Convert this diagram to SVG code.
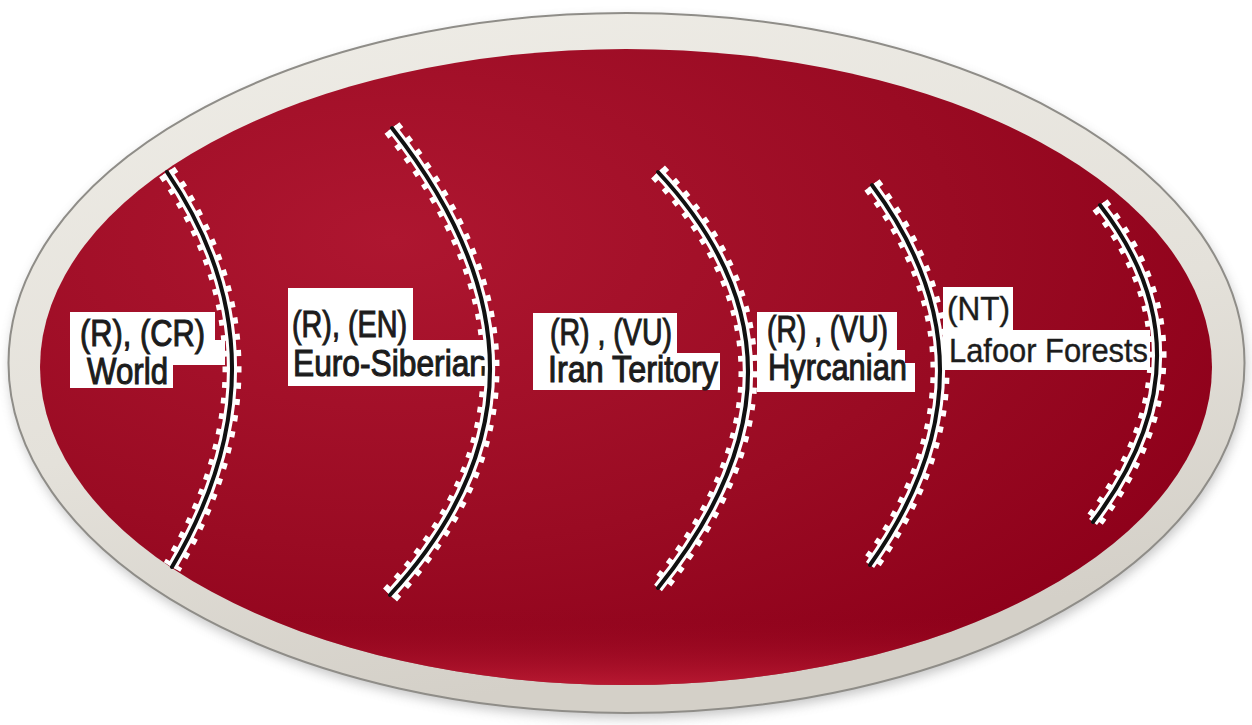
<svg xmlns="http://www.w3.org/2000/svg" width="1252" height="725" viewBox="0 0 1252 725">
<defs>
<filter id="sh" x="-10%" y="-10%" width="120%" height="120%"><feGaussianBlur stdDeviation="6"/></filter>
<linearGradient id="bezel" x1="0" y1="0" x2="0.3" y2="1">
<stop offset="0" stop-color="#efede7"/><stop offset="0.6" stop-color="#e4e1da"/><stop offset="1" stop-color="#d4d0c8"/>
</linearGradient>
<radialGradient id="red" cx="0.3" cy="0.3" r="0.8">
<stop offset="0" stop-color="#ae1630"/><stop offset="0.6" stop-color="#9a0b23"/><stop offset="1" stop-color="#8e001a"/>
</radialGradient>
<linearGradient id="rim" x1="0" y1="0" x2="0" y2="1">
<stop offset="0" stop-color="#8a0018" stop-opacity="0"/><stop offset="0.88" stop-color="#8a0018" stop-opacity="0"/><stop offset="1" stop-color="#c8223a" stop-opacity="0.7"/>
</linearGradient>
</defs>
<style>
.box{fill:#ffffff}
.t{font-family:"Liberation Sans",Arial,sans-serif;font-size:37px;fill:#1c1c1c;stroke:#1c1c1c;stroke-width:1.1}
.tl{font-size:33px;stroke-width:0.4}
.halo1{fill:none;stroke:#ffffff;stroke-width:19;stroke-dasharray:6 10}
.halo2{fill:none;stroke:#ffffff;stroke-width:10}
.arc{fill:none;stroke:#111111;stroke-width:4;stroke-linecap:round}
</style>
<rect width="1252" height="725" fill="#ffffff"/>
<g id="plate">
<ellipse cx="628" cy="368" rx="618" ry="350" fill="#7a7a7a" opacity="0.45" filter="url(#sh)"/>
<ellipse cx="626.5" cy="363" rx="618" ry="350" fill="url(#bezel)" stroke="#8f8d88" stroke-width="2"/>
<ellipse cx="626" cy="367" rx="586" ry="318" fill="url(#red)"/>
<ellipse cx="626" cy="367" rx="586" ry="318" fill="url(#rim)"/>
</g>
<g id="n1">
<polygon class="box" points="70,312 215,312 215,340 225,340 225,365 173,365 173,388 70,388"/>
<text class="t" x="80" y="346" textLength="125" lengthAdjust="spacingAndGlyphs">(R), (CR)</text>
<text class="t" x="87" y="384" textLength="81" lengthAdjust="spacingAndGlyphs">World</text>
</g>
<g id="n2">
<polygon class="box" points="288,288 413,288 413,340 485,340 485,386 288,386"/>
<text class="t" x="292" y="337" textLength="115" lengthAdjust="spacingAndGlyphs">(R), (EN)</text>
<text class="t" x="293" y="376" textLength="194" lengthAdjust="spacingAndGlyphs">Euro-Siberian</text>
</g>
<g id="n3">
<polygon class="box" points="533,313 677,313 677,353 720,353 720,390 533,390"/>
<text class="t" x="550" y="345" textLength="122" lengthAdjust="spacingAndGlyphs">(R) , (VU)</text>
<text class="t" x="548" y="382" textLength="170" lengthAdjust="spacingAndGlyphs">Iran Teritory</text>
</g>
<g id="n4">
<polygon class="box" points="757,312 897,312 897,350 905,350 905,363 915,363 915,392 757,392"/>
<text class="t" x="767" y="342" textLength="121" lengthAdjust="spacingAndGlyphs">(R) , (VU)</text>
<text class="t" x="768" y="380" textLength="139" lengthAdjust="spacingAndGlyphs">Hyrcanian</text>
</g>
<g id="n5">
<polygon class="box" points="943,287 1013,287 1013,330 1150,330 1150,370 943,370"/>
<text class="t tl" x="947" y="320" textLength="63" lengthAdjust="spacingAndGlyphs">(NT)</text>
<text class="t tl" x="949" y="362" textLength="199" lengthAdjust="spacingAndGlyphs">Lafoor Forests</text>
</g>
<g id="connectors">
<path class="halo1" d="M167,172 Q294.5,360 172,567"/>
<path class="halo2" d="M167,172 Q294.5,360 172,567"/>
<path class="arc" d="M167,172 Q294.5,360 172,567"/>
<path class="halo1" d="M392,128 Q589,378.5 390,595"/>
<path class="halo2" d="M392,128 Q589,378.5 390,595"/>
<path class="arc" d="M392,128 Q589,378.5 390,595"/>
<path class="halo1" d="M658,172 Q838,364 658,588"/>
<path class="halo2" d="M658,172 Q838,364 658,588"/>
<path class="arc" d="M658,172 Q838,364 658,588"/>
<path class="halo1" d="M872,185 Q1009,369 870,565"/>
<path class="halo2" d="M872,185 Q1009,369 870,565"/>
<path class="arc" d="M872,185 Q1009,369 870,565"/>
<path class="halo1" d="M1100,205 Q1217.5,356.5 1093,522"/>
<path class="halo2" d="M1100,205 Q1217.5,356.5 1093,522"/>
<path class="arc" d="M1100,205 Q1217.5,356.5 1093,522"/>
</g>
</svg>
